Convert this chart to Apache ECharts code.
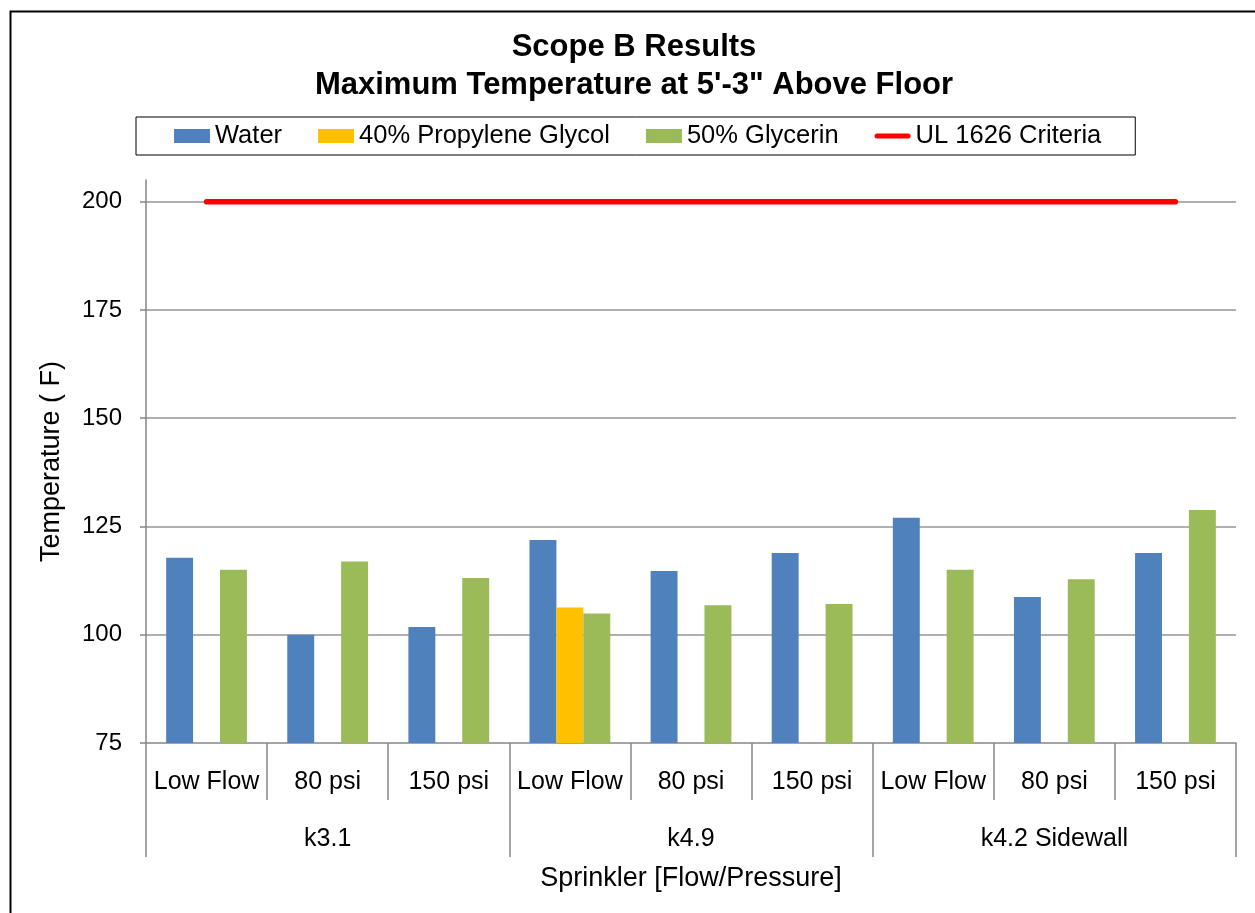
<!DOCTYPE html>
<html>
<head>
<meta charset="utf-8">
<script src="https://cdn.jsdelivr.net/npm/echarts@6/dist/echarts.min.js"></script>
<style>
html,body{margin:0;padding:0;background:#fff;}
#chart{width:1255px;height:913px;}
</style>
</head>
<body>
<div id="chart"></div>
<script>
const categories = ['Low Flow', '80 psi', '150 psi', 'Low Flow', '80 psi', '150 psi', 'Low Flow', '80 psi', '150 psi'];
const groups = ['k3.1', 'k4.9', 'k4.2 Sidewall'];
const water = [117.8, 100, 101.8, 121.9, 114.7, 118.9, 127, 108.7, 118.9];
const propyleneGlycol = [null, null, null, 106.3, null, null, null, null, null];
const glycerin = [115, 116.9, 113.1, 104.9, 106.8, 107.1, 115, 112.8, 128.8];
const criteria = [200, 200, 200, 200, 200, 200, 200, 200, 200];
const yTicks = { min: 75, max: 205, interval: 25 };

const FONT = 'Arial, "Liberation Sans", sans-serif';
const chart = echarts.init(document.getElementById('chart'), null, { renderer: 'canvas' });

chart.setOption({
  animation: false,
  backgroundColor: '#fff',
  textStyle: { fontFamily: FONT, color: '#000' },
  graphic: [{
    type: 'rect', left: 8, top: 9, silent: true,
    shape: { width: 1300, height: 1000 },
    style: { fill: 'none', stroke: '#000', lineWidth: 2 }
  }],
  title: {
    text: 'Scope B Results\nMaximum Temperature at 5\'-3" Above Floor',
    left: 634, top: 28, padding: 0,
    textAlign: 'center',
    textStyle: { fontFamily: FONT, fontSize: 31, fontWeight: 'bold', color: '#000', lineHeight: 38 }
  },
  legend: {
    left: 136, top: 117,
    padding: [6, 34, 6, 38],
    itemGap: 36,
    itemWidth: 36, itemHeight: 14,
    borderColor: '#000', borderWidth: 1,
    symbolKeepAspect: true,
    textStyle: { fontFamily: FONT, fontSize: 25.5, color: '#000' },
    data: [
      { name: 'Water', icon: 'rect' },
      { name: '40% Propylene Glycol', icon: 'rect' },
      { name: '50% Glycerin', icon: 'rect' },
      { name: 'UL 1626 Criteria', icon: 'path://M2.5,0L33.5,0A2.5,2.5,0,0,1,33.5,5L2.5,5A2.5,2.5,0,0,1,2.5,0Z' }
    ]
  },
  grid: { left: 146, right: 19, top: 180, bottom: 170, containLabel: false },
  xAxis: [{
    type: 'category',
    position: 'bottom',
    data: categories,
    boundaryGap: true,
    axisLine: { lineStyle: { color: '#868686', width: 1.5 } },
    axisTick: { show: true, length: 57, interval: 0, lineStyle: { color: '#868686', width: 1.5 } },
    axisLabel: { interval: 0, margin: 27, fontSize: 25, color: '#000', fontFamily: FONT },
    name: 'Sprinkler [Flow/Pressure]',
    nameLocation: 'middle',
    nameGap: 122,
    nameTextStyle: { fontSize: 27, color: '#000', fontFamily: FONT }
  }, {
    type: 'category',
    position: 'bottom',
    data: groups,
    boundaryGap: true,
    axisLine: { show: false },
    axisTick: { show: true, length: 114, interval: 0, lineStyle: { color: '#868686', width: 1.5 } },
    axisLabel: { interval: 0, margin: 84, fontSize: 25, color: '#000', fontFamily: FONT },
    splitLine: { show: false }
  }],
  yAxis: {
    type: 'value',
    min: yTicks.min, max: yTicks.max, interval: yTicks.interval,
    axisLine: { show: true, lineStyle: { color: '#868686', width: 1.5 } },
    axisTick: { show: true, inside: false, length: 6, lineStyle: { color: '#868686', width: 1.5 } },
    axisLabel: { margin: 24, fontSize: 24, color: '#000', fontFamily: FONT, showMaxLabel: false },
    splitLine: { show: true, showMinLine: false, showMaxLine: false, lineStyle: { color: '#969696', width: 1.5 } },
    name: 'Temperature ( F)',
    nameLocation: 'middle',
    nameGap: 81,
    nameTextStyle: { fontSize: 27, color: '#000', fontFamily: FONT }
  },
  series: [
    { name: 'Water', type: 'bar', data: water, barGap: '0%', barCategoryGap: '33.3%',
      itemStyle: { color: '#4f81bd' } },
    { name: '40% Propylene Glycol', type: 'bar', data: propyleneGlycol, barGap: '0%', barCategoryGap: '33.3%',
      itemStyle: { color: '#ffc000' } },
    { name: '50% Glycerin', type: 'bar', data: glycerin, barGap: '0%', barCategoryGap: '33.3%',
      itemStyle: { color: '#9bbb59' } },
    { name: 'UL 1626 Criteria', type: 'line', data: criteria, symbol: 'none', showSymbol: false, z: 5,
      itemStyle: { color: '#ff0000' },
      lineStyle: { color: '#ff0000', width: 5.5, cap: 'round' } }
  ]
});
</script>
</body>
</html>
